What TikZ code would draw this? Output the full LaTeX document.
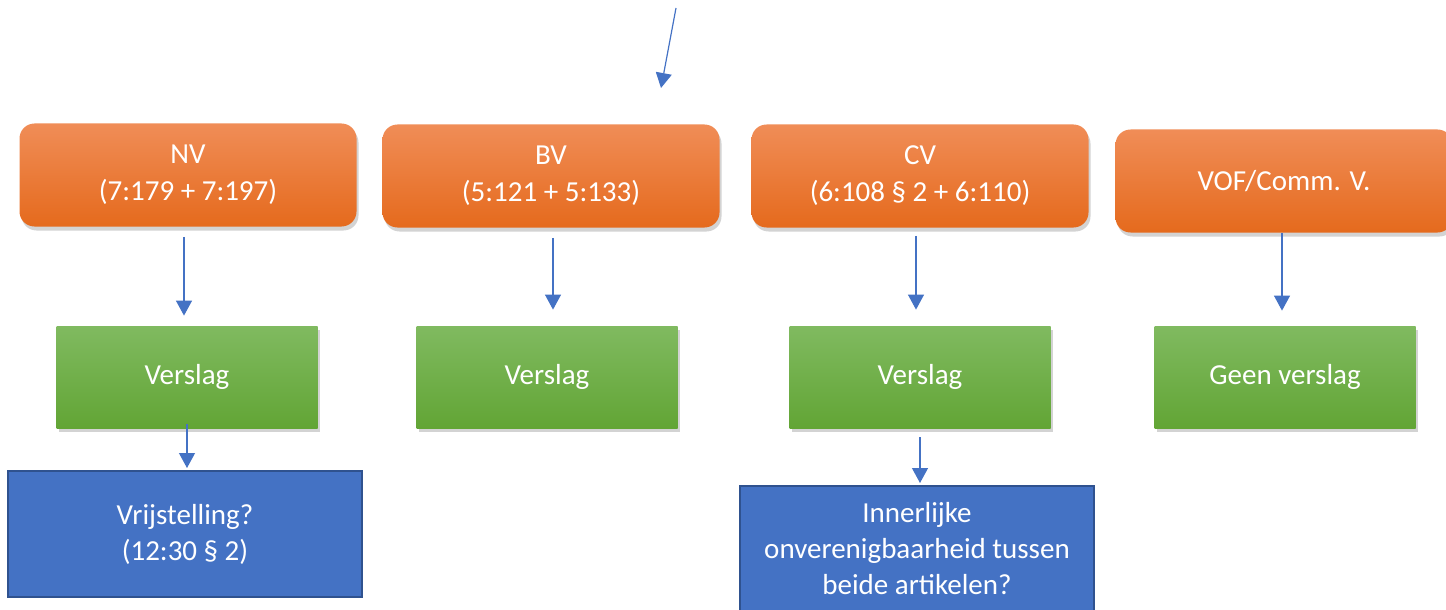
\documentclass[tikz,border=0pt]{standalone}
\usepackage{fontspec}
\setmainfont{Carlito}
\usetikzlibrary{arrows.meta,shadows}

\definecolor{orTop}{HTML}{F08D57}
\definecolor{orMid}{HTML}{F27C2F}
\definecolor{orBot}{HTML}{E56A1D}
\definecolor{grTop}{HTML}{80BA60}
\definecolor{grMid}{HTML}{70AD47}
\definecolor{grBot}{HTML}{62A535}
\definecolor{blFill}{HTML}{4472C4}
\definecolor{blLine}{HTML}{2F528F}

\tikzset{
    soort/.style={rounded corners=7.5pt, minimum width=168.5pt, minimum height=51.5pt,
        top color=orTop, middle color=orMid, bottom color=orBot, text=white,
        align=center, font=\fontsize{14.5}{18.5}\selectfont, inner sep=0pt,
        drop shadow={shadow xshift=1pt, shadow yshift=-2pt, opacity=0.35}},
    verslagbox/.style={minimum width=130.5pt, minimum height=51pt,
        top color=grTop, middle color=grMid, bottom color=grBot, text=white,
        align=center, font=\fontsize{14.5}{18.5}\selectfont, inner sep=0pt,
        drop shadow={shadow xshift=1pt, shadow yshift=-2pt, opacity=0.35}},
    vraag/.style={minimum width=177pt, minimum height=63pt, fill=blFill, draw=blLine,
        line width=1pt, text=white, align=center,
        font=\fontsize{14.5}{18pt}\selectfont, inner sep=0pt},
    pijl/.style={draw=blFill, line width=0.6pt, -{Triangle[width=8pt,length=7.5pt]}}
}

\begin{document}
\begin{tikzpicture}[x=0.5pt, y=-0.5pt]
    \useasboundingbox (0,0) rectangle (1446,610);

    % top arrow
    \coordinate (boven) at (676,8);
    \coordinate (onder) at (661,88);
    \draw[pijl] (boven) -- (onder);

    % company forms
    \node[soort] (nv) at (188,175) {NV\\(7:179 + 7:197)};
    \node[soort] (bv) at (551,176) {BV\\(5:121 + 5:133)};
    \node[soort] (cv) at (920,176) {CV\\(6:108 § 2 + 6:110)};
    \node[soort] (vof) at (1284,181) {VOF/Comm. V.};

    % reports
    \node[verslagbox] (nvv) at (187,377) {Verslag};
    \node[verslagbox] (bvv) at (547,377) {Verslag};
    \node[verslagbox] (cvv) at (920,377) {Verslag};
    \node[verslagbox] (vofv) at (1285,377) {Geen verslag};

    % questions
    \node[vraag] (nvq) at (185,534) {Vrijstelling?\\(12:30 § 2)};
    \node[vraag] (cvq) at (917,549) {Innerlijke\\onverenigbaarheid tussen\\beide artikelen?};

    % arrows
    \draw[pijl, shorten <=5pt, shorten >=5pt] ([xshift=-2pt]nv.south) -- ([xshift=-2pt]nv.south |- nvv.north);
    \draw[pijl, shorten <=5pt, shorten >=8pt] ([xshift=1pt]bv.south) -- ([xshift=1pt]bv.south |- bvv.north);
    \draw[pijl, shorten <=4pt, shorten >=8pt] ([xshift=-2pt]cv.south) -- ([xshift=-2pt]cv.south |- cvv.north);
    \draw[pijl, shorten >=7.5pt] ([xshift=-1pt]vof.south) -- ([xshift=-1pt]vof.south |- vofv.north);

    \draw[pijl, shorten <=-2pt, shorten >=1pt] (nvv.south) -- (nvv.south |- nvq.north);
    \draw[pijl, shorten <=4.5pt, shorten >=1pt] (cvv.south) -- (cvv.south |- cvq.north);
\end{tikzpicture}
\end{document}
